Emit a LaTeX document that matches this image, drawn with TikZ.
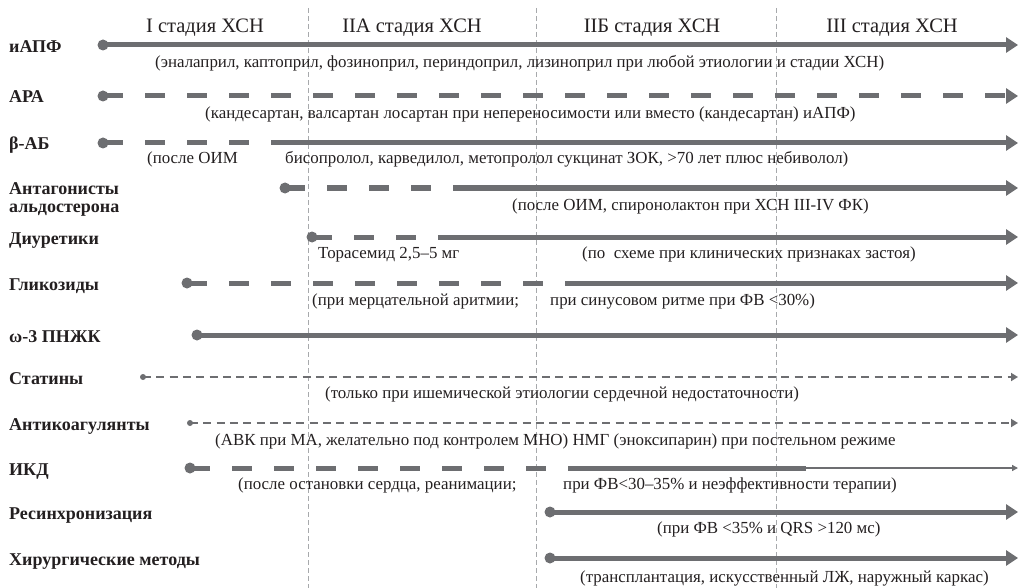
\documentclass[tikz,border=0pt]{standalone}
\usepackage{fontspec}
\setmainfont{Liberation Serif}
\usetikzlibrary{arrows.meta}

\definecolor{linegray}{HTML}{6D6E71}
\definecolor{gridgray}{HTML}{A7A9AC}
\definecolor{ink}{HTML}{231F20}

\tikzset{
  bar/.style={draw=linegray, line width=5pt, -{Triangle[length=12pt,width=15pt]}},
  dashbar/.style={bar, dash pattern=on 20pt off 22pt},
  thinbar/.style={draw=linegray, line width=2.4pt, dash pattern=on 8pt off 5.3pt, -{Triangle[length=7pt,width=8pt]}},
  hairbar/.style={draw=linegray, line width=1.3pt, -{Triangle[length=6pt,width=6pt]}},
  dot/.style={circle, fill=linegray, inner sep=0pt, minimum size=11pt},
  smalldot/.style={dot, minimum size=6pt},
  stagegrid/.style={draw=gridgray, line width=0.8pt, dash pattern=on 5pt off 3pt},
  rowlabel/.style={font=\bfseries\fontsize{18}{19}\selectfont, text=ink, anchor=base west, inner sep=0pt},
  note/.style={font=\fontsize{16.9}{19}\selectfont, text=ink, anchor=base west, inner sep=0pt},
  stage/.style={font=\fontsize{20.5}{23}\selectfont, text=ink, anchor=base, inner sep=0pt}
}

\begin{document}
\begin{tikzpicture}[x=1pt, y=-1pt]
  \useasboundingbox (0,0) rectangle (1019,588);

  % stage borders
  \foreach \x in {308,536,776}
    \draw[stagegrid] (\x,8) -- (\x,588);

  \node[stage] (s1) at (205,33) {I стадия ХСН};
  \node[stage] (s2) at (412,33) {IIА стадия ХСН};
  \node[stage] (s3) at (652,33) {IIБ стадия ХСН};
  \node[stage] (s4) at (892,33) {III стадия ХСН};

  % start points
  \begin{scope}[every node/.style={dot}]
    \node (1)  at (103,45)  {};
    \node (2)  at (103,96)  {};
    \node (3)  at (103,143) {};
    \node (4)  at (285,188) {};
    \node (5)  at (312,237) {};
    \node (6)  at (187,283) {};
    \node (7)  at (197,335) {};
    \node[smalldot] (8) at (143,377) {};
    \node[smalldot] (9) at (190,423) {};
    \node (10) at (190,468) {};
    \node (11) at (550,512) {};
    \node (12) at (550,558) {};
  \end{scope}

  \foreach \i/\y in {1/45,2/96,3/143,4/188,5/237,6/283,7/335,8/377,9/423,10/468,11/512,12/558}
    \coordinate (e\i) at (1018,\y);
  \coordinate (m3)  at (271,143);
  \coordinate (m4)  at (453,188);
  \coordinate (m5)  at (438,237);
  \coordinate (m6)  at (565,283);
  \coordinate (m10) at (568,468);
  \coordinate (k10) at (806,468);

  \draw[bar] (1.center) -- (e1);
  \draw[dashbar] (2.center) -- (e2);
  \draw[dashbar,-] (3.center) -- (m3);
  \draw[bar] (m3) -- (e3);
  \draw[dashbar,-] (4.center) -- (m4);
  \draw[bar] (m4) -- (e4);
  \draw[dashbar,-] (5.center) -- (m5);
  \draw[bar] (m5) -- (e5);
  \draw[dashbar,-] (6.center) -- (m6);
  \draw[bar] (m6) -- (e6);
  \draw[bar] (7.center) -- (e7);
  \draw[thinbar] (8.center) -- (e8);
  \draw[thinbar] (9.center) -- (e9);
  \draw[dashbar,-] (10.center) -- (m10);
  \draw[bar,-] (m10) -- (k10);
  \draw[hairbar] (k10) -- (e10);
  \draw[bar] (11.center) -- (e11);
  \draw[bar] (12.center) -- (e12);

  % row labels
  \begin{scope}[every node/.style={rowlabel}]
    \node (l1)  at (9,53)  {иАПФ};
    \node (l2)  at (9,103) {АРА};
    \node (l3)  at (9,150) {β-АБ};
    \node (l4)  at (9,194) {Антагонисты};
    \node (l4b) at (9,212) {альдостерона};
    \node (l5)  at (9,244) {Диуретики};
    \node (l6)  at (9,290) {Гликозиды};
    \node (l7)  at (9,342) {ω-3 ПНЖК};
    \node (l8)  at (9,384) {Статины};
    \node (l9)  at (9,430) {Антикоагулянты};
    \node (l10) at (9,475) {ИКД};
    \node (l11) at (9,519) {Ресинхронизация};
    \node (l12) at (9,565) {Хирургические методы};
  \end{scope}

  % notes under the bars
  \begin{scope}[every node/.style={note}]
    \node (n1)  at (155,68)  {(эналаприл, каптоприл, фозиноприл, периндоприл, лизиноприл при любой этиологии и стадии ХСН)};
    \node (n2)  at (205,119) {(кандесартан, валсартан лосартан при непереносимости или вместо (кандесартан) иАПФ)};
    \node (n3)  at (147,164) {(после ОИМ};
    \node (n3b) at (285,164) {бисопролол, карведилол, метопролол сукцинат ЗОК, >70 лет плюс небиволол)};
    \node (n4)  at (512,210) {(после ОИМ, спиронолактон при ХСН III-IV ФК)};
    \node (n5)  at (318,258) {Торасемид 2,5–5 мг};
    \node (n5b) at (582,258) {(по\ \ схеме при клинических признаках застоя)};
    \node (n6)  at (312,305) {(при мерцательной аритмии;};
    \node (n6b) at (550,305) {при синусовом ритме при ФВ <30\%)};
    \node (n8)  at (325,398) {(только при ишемической этиологии сердечной недостаточности)};
    \node (n9)  at (215,445) {(АВК при МА, желательно под контролем МНО) НМГ (эноксипарин) при постельном режиме};
    \node (n10) at (238,489) {(после остановки сердца, реанимации;};
    \node (n10b) at (563,489) {при ФВ<30–35\% и неэффективности терапии)};
    \node (n11) at (657,533) {(при ФВ <35\% и QRS >120 мс)};
    \node (n12) at (580,582) {(трансплантация, искусственный ЛЖ, наружный каркас)};
  \end{scope}
\end{tikzpicture}
\end{document}
